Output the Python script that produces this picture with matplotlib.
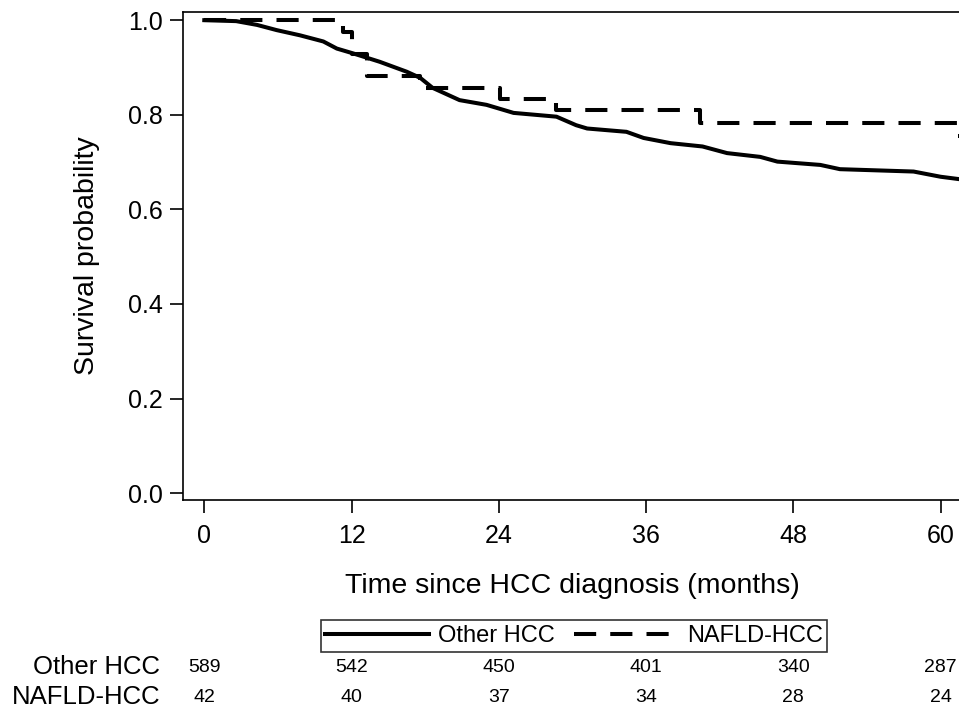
import numpy as np
import matplotlib
matplotlib.use("Agg")
import matplotlib.pyplot as plt
from matplotlib.transforms import blended_transform_factory

plt.rcParams['font.family'] = ['Liberation Sans', 'DejaVu Sans']

# Kaplan-Meier estimates (months, survival)
other_t = [0, 2.6, 4.3, 5.9, 7.8, 9.7, 10.8, 12.1, 14.3, 16.5, 17.6, 18.6, 20.8, 23.0,
           25.2, 28.7, 30.3, 31.2, 34.4, 35.8, 38.0, 40.6, 42.6, 45.3, 46.7, 50.2,
           51.8, 57.8, 60.0, 61.5]
other_s = [1.0, 0.998, 0.990, 0.979, 0.968, 0.955, 0.940, 0.930, 0.912, 0.891, 0.878,
           0.857, 0.831, 0.821, 0.804, 0.796, 0.778, 0.771, 0.764, 0.751, 0.740, 0.733,
           0.719, 0.711, 0.701, 0.694, 0.685, 0.680, 0.669, 0.664]

nafld_t = [0, 11.3, 12.0, 13.3, 17.6, 24.1, 28.7, 40.4, 61.3, 62.0]
nafld_s = [1.0, 0.976, 0.929, 0.881, 0.857, 0.833, 0.810, 0.783, 0.755, 0.755]

risk_times = [0, 12, 24, 36, 48, 60]
risk_other = [589, 542, 450, 401, 340, 287]
risk_nafld = [42, 40, 37, 34, 28, 24]

fig = plt.figure(figsize=(9.59, 7.13), dpi=100)
ax = fig.add_axes([183.3 / 959, 213 / 713, 1 - 183.3 / 959, 488 / 713])

# many tiny KM steps -> looks like a continuous line in the original
ax.plot(other_t, other_s, color='black', lw=2.9, label='Other HCC',
        solid_joinstyle='miter')
ax.plot(nafld_t, nafld_s, drawstyle='steps-post', color='black', lw=2.9,
        dashes=(5.5, 3.5), label='NAFLD-HCC')

ax.set_xlim(-1.71, 61.5)
ax.set_ylim(-0.0144, 1.0173)
ax.set_xticks(risk_times)
ax.set_yticks([0, 0.2, 0.4, 0.6, 0.8, 1.0])
ax.set_yticklabels(['0.0', '0.2', '0.4', '0.6', '0.8', '1.0'])
ax.spines['right'].set_visible(False)
for sp in ax.spines.values():
    sp.set_linewidth(1.2)
ax.tick_params(axis='both', direction='out', length=9.5, width=1.2, labelsize=18)
ax.tick_params(axis='x', pad=8)
ax.tick_params(axis='y', pad=5)

ax.set_ylabel('Survival probability', fontsize=20.5)
ax.yaxis.set_label_coords(-(183.3 - 87) / (959 - 183.3), 0.5)
ax.yaxis.label.set_va('center')
fig.text(572 / 959, 1 - 586 / 713, 'Time since HCC diagnosis (months)',
         fontsize=20.5, ha='center', va='center')

leg = fig.legend(loc='center', bbox_to_anchor=(574 / 959, 1 - 636 / 713), ncol=2,
                 fontsize=17, frameon=True, fancybox=False, edgecolor='black',
                 handlelength=4.4, columnspacing=0.8, handletextpad=0.38,
                 borderpad=0.2, borderaxespad=0)
leg.get_frame().set_linewidth(1.2)

# numbers at risk
tr = blended_transform_factory(ax.transData, fig.transFigure)
for name, vals, yp in [('Other HCC', risk_other, 667), ('NAFLD-HCC', risk_nafld, 697)]:
    fig.text(160 / 959, 1 - yp / 713, name, fontsize=18.5, ha='right', va='center')
    for t, v in zip(risk_times, vals):
        ax.text(t, 1 - yp / 713, str(v), transform=tr, fontsize=14,
                ha='center', va='center', clip_on=False)

fig.savefig('out.png', dpi=100)
